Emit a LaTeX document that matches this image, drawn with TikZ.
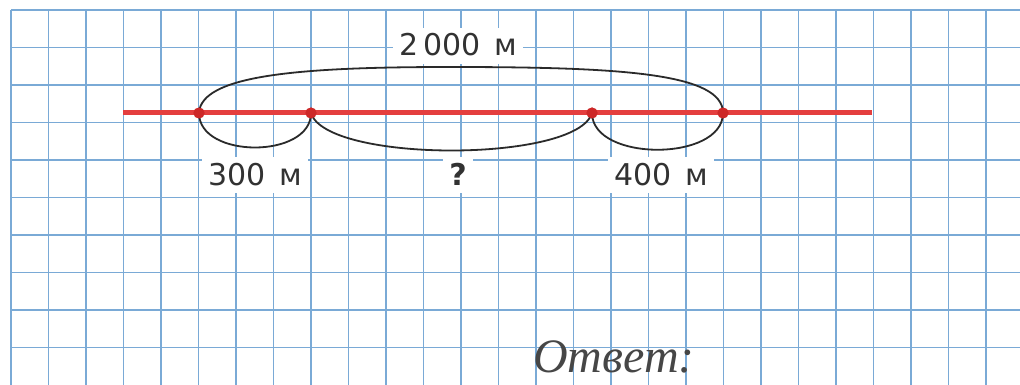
\documentclass[tikz,border=0pt]{standalone}
\usepackage{fontspec}
\newfontfamily\labfont{DejaVu Sans}
\newfontfamily\handfont{Liberation Serif}
\definecolor{gridblue}{RGB}{122,170,214}
\definecolor{linered}{RGB}{228,62,62}
\definecolor{dotred}{RGB}{205,40,40}
\definecolor{inkgray}{RGB}{50,50,50}
\tikzset{
  gridline/.style={draw=gridblue, line width=1.3pt},
  redline/.style={draw=linered, line width=5pt},
  ptdot/.style={circle, fill=dotred, minimum size=11pt, inner sep=0pt},
  brace/.style={draw=inkgray!85!black, line width=1.8pt},
  lab/.style={fill=white, text=inkgray, font=\labfont\fontsize{30}{34}\selectfont,
    anchor=base, inner xsep=6pt, inner ysep=2pt, text height=26pt, text depth=6pt},
  hand/.style={text=inkgray!90, font=\handfont\itshape\fontsize{48}{54}\selectfont,
    anchor=base west, inner sep=0pt}
}
\begin{document}
\begin{tikzpicture}[x=1pt, y=-1pt]
  \useasboundingbox[fill=white] (0,0) rectangle (1020,385);
  % grid
  \foreach \i in {0,...,26} {
    \draw[gridline] (11+37.5*\i,10) -- (11+37.5*\i,385);
  }
  \foreach \j in {0,...,9} {
    \draw[gridline] (11,10+37.5*\j) -- (1020,10+37.5*\j);
  }
  % labels
  \node[lab] (ltot) at (458,56) {2\,000\hspace{0.45em}м};
  \node[lab] (la) at (255,185) {300\hspace{0.45em}м};
  \node[lab, font=\labfont\bfseries\fontsize{30}{34}\selectfont] (lq) at (458,185) {?};
  \node[lab] (lb) at (661,185) {400\hspace{0.45em}м};
  % red line
  \coordinate (L) at (123,113);
  \coordinate (R) at (872,113);
  \draw[redline] (L) -- (R);
  % points
  \node[ptdot] (p1) at (199,113) {};
  \node[ptdot] (p2) at (311,113) {};
  \node[ptdot] (p3) at (592,113) {};
  \node[ptdot] (p4) at (723,113) {};
  \coordinate (top) at (450,67);
  % arcs
  \draw[brace] (p1.center) .. controls +(2,-38) and +(-150,0) .. (top)
               .. controls +(170,0) and +(0,-40) .. (p4.center);
  \draw[brace] (p1.center) .. controls +(0,46) and +(0,46) .. (p2.center);
  \draw[brace] (p2.center) .. controls +(15,50) and +(-15,50) .. (p3.center);
  \draw[brace] (p3.center) .. controls +(0,49) and +(0,49) .. (p4.center);
  % redraw dots on top
  \foreach \p in {p1,p2,p3,p4} { \fill[dotred] (\p.center) circle (5.5pt); }
  % answer
  \node[hand] (ans) at (533,372) {Ответ:};
\end{tikzpicture}
\end{document}
